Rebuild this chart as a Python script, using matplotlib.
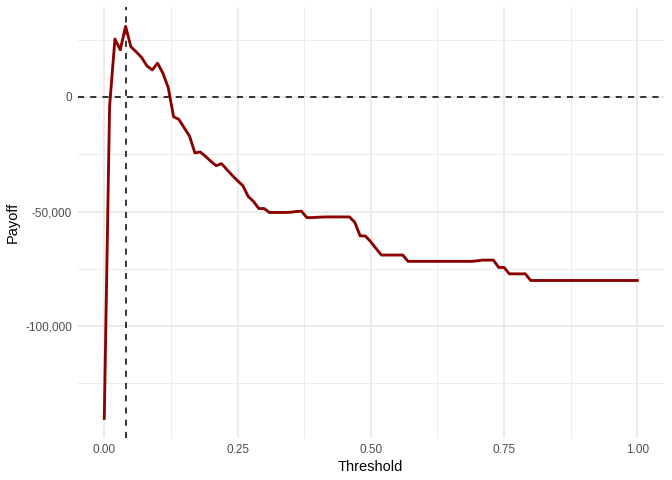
import matplotlib
matplotlib.use("Agg")
import matplotlib.pyplot as plt
from matplotlib.ticker import FuncFormatter, MultipleLocator
import numpy as np

thresholds = [round(i * 0.01, 2) for i in range(101)]
payoff = [
    -140300, -4000, 25300, 20600, 30850, 21900, 19700, 17250, 13600, 11800,
    14770, 10380, 4100, -8600, -9800, -13450, -17100, -24400, -24000, -25900,
    -28100, -30000, -29100, -31700, -34200, -36550, -38700, -43400, -45600, -48700,
    -48700, -50440, -50400, -50400, -50400, -50300, -50000, -49850, -52650, -52650,
    -52500, -52400, -52350, -52350, -52350, -52350, -52350, -54700, -60600, -60700,
    -63200, -66200, -69000, -69000, -69000, -69000, -69000, -71750, -71750, -71750,
    -71750, -71750, -71750, -71750, -71750, -71750, -71750, -71750, -71750, -71750,
    -71500, -71200, -71200, -71200, -74400, -74400, -77200, -77200, -77200, -77200,
    -80100, -80100, -80100, -80100, -80100, -80100, -80100, -80100, -80100, -80100,
    -80100, -80100, -80100, -80100, -80100, -80100, -80100, -80100, -80100, -80100,
    -80100,
]
best_threshold = 0.04

x_ticks = [0.0, 0.25, 0.5, 0.75, 1.0]
x_labels = ["0.00", "0.25", "0.50", "0.75", "1.00"]
y_ticks = [-100000, -50000, 0]

plt.rcParams['font.family'] = ['Liberation Sans', 'DejaVu Sans']

fig = plt.figure(figsize=(6.72, 4.8), dpi=100)
ax = fig.add_axes([0.1155, 0.0875, 0.8725, 0.8985])

xmin, xmax = min(thresholds), max(thresholds)
xr = xmax - xmin
ymin, ymax = min(payoff), max(payoff)
yr = ymax - ymin
ax.set_xlim(xmin - 0.05 * xr, xmax + 0.05 * xr)
ax.set_ylim(ymin - 0.05 * yr, ymax + 0.05 * yr)

ax.set_xticks(x_ticks)
ax.set_xticklabels(x_labels)
ax.set_yticks(y_ticks)
ax.yaxis.set_major_formatter(FuncFormatter(lambda v, p: f"{int(v):,}"))
ax.xaxis.set_minor_locator(MultipleLocator(0.125))
ax.yaxis.set_minor_locator(MultipleLocator(25000))

ax.grid(which='major', color='#EBEBEB', linewidth=1.37)
ax.grid(which='minor', color='#EBEBEB', linewidth=0.68)
ax.set_axisbelow(True)
for s in ax.spines.values():
    s.set_visible(False)
ax.tick_params(which='both', length=0)
ax.tick_params(axis='both', labelsize=8.45, labelcolor='#4D4D4D')
ax.tick_params(axis='x', pad=4)
ax.tick_params(axis='y', pad=4)

ax.axhline(0, color='black', linestyle=(0, (4, 4)), linewidth=1.1, zorder=2)
ax.axvline(best_threshold, color='black', linestyle=(0, (4, 4)), linewidth=1.1, zorder=2)
ax.plot(thresholds, payoff, color='#8B0000', linewidth=2.05, zorder=3, solid_joinstyle='round')

ax.set_xlabel("Threshold", fontsize=10.5, labelpad=3)
ax.set_ylabel("Payoff", fontsize=10.5, labelpad=4)

fig.savefig("out.png", dpi=100, facecolor='white')
